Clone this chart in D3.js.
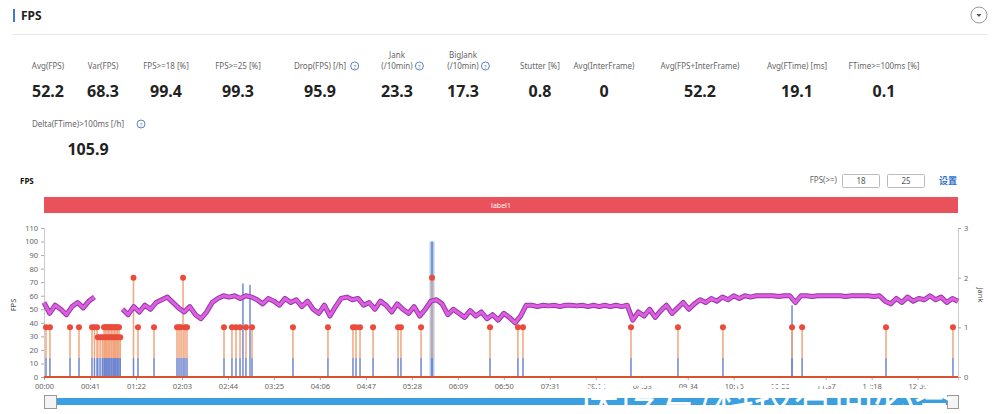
<!DOCTYPE html>
<html><head><meta charset="utf-8">
<script src="https://cdn.jsdelivr.net/npm/d3@7/dist/d3.min.js"></script>
<style>
body{margin:0;background:#fff;font-family:"Noto Sans","DejaVu Sans",Arial,sans-serif}
svg{display:block}
</style></head>
<body><svg id="c" width="1002" height="414"></svg>
<script>
// ---------- DATA ----------
const statLabels = [["Avg(FPS)"],["Var(FPS)"],["FPS>=18 [%]"],["FPS>=25 [%]"],["Drop(FPS) [/h]"],["Jank","(/10min)"],["BigJank","(/10min)"],["Stutter [%]"],["Avg(InterFrame)"],["Avg(FPS+InterFrame)"],["Avg(FTime) [ms]"],["FTime>=100ms [%]"]];
const statValues = ["52.2","68.3","99.4","99.3","95.9","23.3","17.3","0.8","0","52.2","19.1","0.1"];
const statInfo = [false,false,false,false,true,true,true,false,false,false,false,false];
const stat2Label = "Delta(FTime)>100ms [/h]";
const stat2Value = "105.9";
const fpsThresholds = ["18","25"];

// FPS sampled every 5 s, 0..815 s (null = no data)
const fpsTimes = d3.range(0, 816, 5);
const fpsValues = [
 55,47,53,50,46,52,55,51,56,59, null,null,null,null, 50,46,52,48,53,50,
 55,57,59,55,51,48,52,46,43,48, 55,58,60,59,60,58,60,59,57,54,
 58,56,53,58,55,57,52,56,50,47, 53,45,52,58,59,57,58,53,55,50,
 56,53,48,54,50,47,52,45,50,56, 57,54,46,50,47,44,49,45,48,43,
 46,42,47,44,40,45,53,53,52,53, 52.5,53,52,53,53,52.5,53,52,53,52,
 53,52,53,52,53,42,48,45,50,44, 49,53,47,51,55,50,54,57,55,58,
 56,59,57,60,58,60,59,60,60,60, 60,59.5,60,60,55,60,60,59.5,60,60,
 60,60,60,59.5,60,60,60,60,59.5,60, 56,54,58,55,59,56,58,57,60,57,
 59,55,58,56
];
// Jank events: [time s, jank count (right axis)]
const jankEvents = [
 [1.8,1],[5.3,1],[23.2,1],[31.2,1],[42.8,1],[45,1],[47.3,1],
 [53.5,1],[54.8,1],[56.2,1],[57.5,1],[58.8,1],[60.2,1],[61.5,1],[62.9,1],[64.2,1],[65.5,1],[66.9,1],
 [48,0.8],[50,0.8],[52,0.8],[54,0.8],[56,0.8],[58,0.8],[60,0.8],[62,0.8],[64,0.8],[66,0.8],[68,0.8],
 [83.8,1],[98.1,1],[118.6,1],[120.4,1],[122.2,1],[125.7,1],[127.5,1],
 [160.5,1],[167.6,1],[171.2,1],[174.8,1],[180.1,1],[185.5,1],
 [222,1],[253.2,1],[275.5,1],[278.2,1],[281.8,1],[293.4,1],[315.7,1],[318.3,1],[336.2,1],
 [397.7,1],[422.6,1],[427.1,1],[523.4,1],[565.3,1],[605.4,1],[667,1],[676,1],[750.8,1],[810.5,1]
];
// BigJank events: [time s, count]
const bigJankEvents = [[79.8,2],[124,2],[346,2]];
// Frame-time spikes drawn against left axis: [time s, value]
const ftimeSpikes = [[177.4,69],[183.7,68],[346,100],[667,53]];
const labelName = "label1";
const watermark = "快传号/科技有问必答";

// ---------- CHART ----------
const svg = d3.select("#c");
const gray = "#666";

// header
svg.append("rect").attr("x",13).attr("y",9).attr("width",2).attr("height",13).attr("fill","#3a7bd5");
svg.append("text").attr("x",21).attr("y",20).text("FPS").attr("font-size",12).attr("font-weight","bold").attr("fill","#222");
svg.append("line").attr("x1",12).attr("x2",988).attr("y1",34.5).attr("y2",34.5).attr("stroke","#e6e6e6");
svg.append("circle").attr("cx",979).attr("cy",15).attr("r",8).attr("fill","#fff").attr("stroke","#999");
svg.append("path").attr("d","M976.5,14 L981.5,14 L979,17 Z").attr("fill","#555");

// stats
const statX = [48,103,166,238,320,397,463,540,604,700,797,884];
statLabels.forEach((lab,i)=>{
  const g = svg.append("g");
  lab.forEach((s,j)=>{
    g.append("text").attr("x",statX[i]).attr("y",69 - (lab.length-1-j)*11).attr("text-anchor","middle")
     .attr("font-size",8).attr("fill",gray).text(s);
  });
  if(statInfo[i]){
    const last = lab[lab.length-1];
    const cx = statX[i] + last.length*4.1/2 + 6;
    g.append("circle").attr("cx",cx).attr("cy",66).attr("r",4).attr("fill","none").attr("stroke","#5b84c4").attr("stroke-width",1);
    g.append("text").attr("x",cx).attr("y",68.5).attr("text-anchor","middle").attr("font-size",6).attr("fill","#5b84c4").text("?");
  }
  svg.append("text").attr("x",statX[i]).attr("y",97).attr("text-anchor","middle").attr("font-size",16)
     .attr("font-weight","bold").attr("fill","#222").text(statValues[i]);
});
svg.append("text").attr("x",78).attr("y",127).attr("text-anchor","middle").attr("font-size",8).attr("fill",gray).text(stat2Label);
svg.append("circle").attr("cx",141).attr("cy",124).attr("r",4).attr("fill","none").attr("stroke","#5b84c4");
svg.append("text").attr("x",141).attr("y",126.5).attr("text-anchor","middle").attr("font-size",6).attr("fill","#5b84c4").text("?");
svg.append("text").attr("x",88).attr("y",155).attr("text-anchor","middle").attr("font-size",16)
   .attr("font-weight","bold").attr("fill","#222").text(stat2Value);

// chart header row
svg.append("text").attr("x",20).attr("y",184).text("FPS").attr("font-size",8).attr("font-weight","bold").attr("fill","#111");
svg.append("text").attr("x",837).attr("y",183).attr("text-anchor","end").attr("font-size",8).attr("fill",gray).text("FPS(>=)");
fpsThresholds.forEach((v,i)=>{
  const x0 = 842 + i*45;
  svg.append("rect").attr("x",x0+0.5).attr("y",174.5).attr("width",37).attr("height",13).attr("fill","#fff").attr("stroke","#bbb").attr("rx",1);
  svg.append("text").attr("x",x0+19).attr("y",184).attr("text-anchor","middle").attr("font-size",8).attr("fill","#555").text(v);
});
svg.append("text").attr("x",948).attr("y",184).attr("text-anchor","middle").attr("font-size",9).attr("font-weight","bold")
   .attr("fill","#2f6fd0").attr("font-family","Noto Sans CJK SC").text("设置");

// scales
const x = d3.scaleLinear().domain([0,815]).range([44,958]);
const yL = d3.scaleLinear().domain([0,110]).range([377,228]);
const yR = d3.scaleLinear().domain([0,3]).range([377,228]);

// label bar
svg.append("rect").attr("x",x(0)).attr("y",197).attr("width",x(815)-x(0)).attr("height",16).attr("fill","#e9525b");
svg.append("text").attr("x",(x(0)+x(815))/2).attr("y",207.5).attr("text-anchor","middle").attr("font-size",7).attr("fill","#fff").text(labelName);

// axes
const axL = svg.append("g").attr("transform","translate(44,0)")
  .call(d3.axisLeft(yL).tickValues(d3.range(0,111,10)).tickSize(3).tickPadding(3));
axL.select(".domain").attr("stroke","#ccc");
axL.selectAll(".tick line").attr("stroke","#aaa");
axL.selectAll("text").attr("font-size",7.5).attr("fill",gray).attr("font-family","Noto Sans");
const axR = svg.append("g").attr("transform","translate(958,0)")
  .call(d3.axisRight(yR).tickValues([0,1,2,3]).tickFormat(d3.format("d")).tickSize(3).tickPadding(3));
axR.select(".domain").attr("stroke","#ccc");
axR.selectAll(".tick line").attr("stroke","#aaa");
axR.selectAll("text").attr("font-size",7.5).attr("fill",gray).attr("font-family","Noto Sans");
const fmt = s => String(Math.floor(s/60)).padStart(2,"0")+":"+String(s%60).padStart(2,"0");
const axB = svg.append("g").attr("transform","translate(0,377)")
  .call(d3.axisBottom(x).tickValues(d3.range(0,815,41)).tickFormat(fmt).tickSize(3).tickPadding(4));
axB.select(".domain").attr("stroke","#ccc");
axB.selectAll(".tick line").attr("stroke","#aaa");
axB.selectAll("text").attr("font-size",7.5).attr("fill",gray).attr("font-family","Noto Sans");
svg.append("text").attr("transform","translate(16,305) rotate(-90)").attr("text-anchor","middle").attr("font-size",7.5).attr("fill","#444").text("FPS");
svg.append("text").attr("transform","translate(978,295) rotate(90)").attr("text-anchor","middle").attr("font-size",7.5).attr("fill","#444").text("Jank");

// frame time spikes
const sp = svg.append("g");
ftimeSpikes.forEach(([t,v])=>{
  if(v>90) sp.append("rect").attr("x",x(t)-2.5).attr("y",yL(v)).attr("width",5).attr("height",yL(0)-yL(v)).attr("fill","#a9c6e8").attr("opacity",0.9);
  sp.append("line").attr("x1",x(t)).attr("x2",x(t)).attr("y1",yL(0)).attr("y2",yL(v)).attr("stroke","#5a78c8").attr("stroke-width",1.3);
});

// jank stems
const stems = svg.append("g");
const allJ = jankEvents.concat(bigJankEvents);
allJ.forEach(([t,n])=>{
  stems.append("line").attr("x1",x(t)).attr("x2",x(t)).attr("y1",yL(14)).attr("y2",yR(n)).attr("stroke","#f0a67e").attr("stroke-width",1.5);
  stems.append("line").attr("x1",x(t)).attr("x2",x(t)).attr("y1",yL(0)).attr("y2",yL(14)).attr("stroke","#6f86cf").attr("stroke-width",1.5);
});

// FPS line
const line = d3.line().defined(d=>d[1]!=null).x(d=>x(d[0])).y(d=>yL(d[1]));
const fpsData = fpsTimes.map((t,i)=>[t,fpsValues[i]]);
svg.append("path").datum(fpsData).attr("d",line).attr("fill","none").attr("stroke","#8e3aa6").attr("stroke-width",5).attr("stroke-linejoin","round");
svg.append("path").datum(fpsData).attr("d",line).attr("fill","none").attr("stroke","#e05ce0").attr("stroke-width",3).attr("stroke-linejoin","round");

// jank dots
svg.append("g").selectAll("circle").data(allJ).join("circle")
  .attr("cx",d=>x(d[0])).attr("cy",d=>yR(d[1])).attr("r",3).attr("fill","#ea4b3c");

// zero red line
svg.append("line").attr("x1",x(0)).attr("x2",x(815)).attr("y1",yL(0)).attr("y2",yL(0)).attr("stroke","#e0502c").attr("stroke-width",2);

// slider
svg.append("rect").attr("x",50).attr("y",398).attr("width",902).attr("height",7).attr("fill","#3aa0e0");
svg.append("rect").attr("x",44.5).attr("y",395.5).attr("width",12).attr("height",13).attr("fill","#f4f4f4").attr("stroke","#999");
svg.append("rect").attr("x",947.5).attr("y",395.5).attr("width",11).attr("height",13).attr("fill","#f4f4f4").attr("stroke","#999");

// watermark
svg.append("text").attr("x",578).attr("y",412).attr("font-size",40).attr("font-family","Noto Sans CJK SC")
  .attr("fill","#fff").attr("letter-spacing",0).text(watermark);
</script></body></html>
